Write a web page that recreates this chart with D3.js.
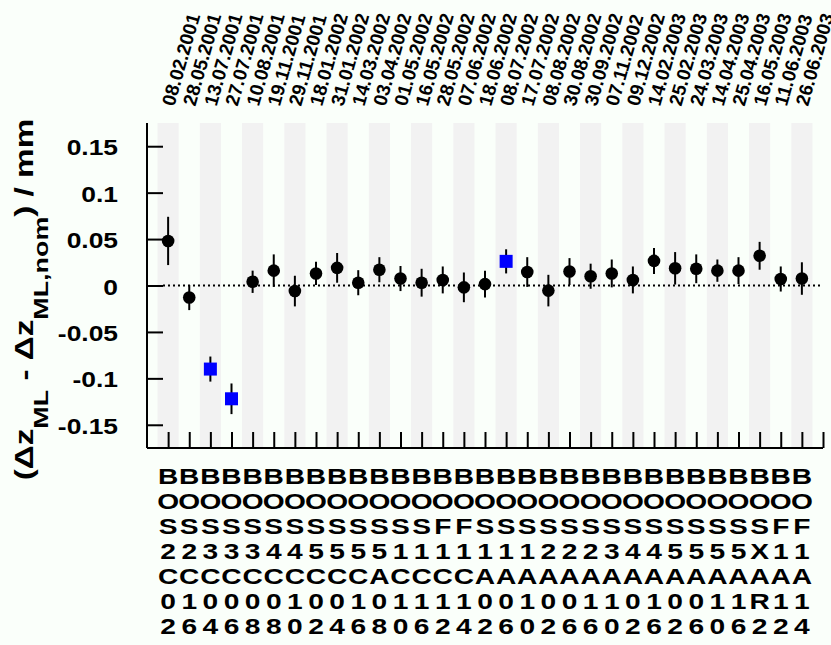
<!DOCTYPE html>
<html>
<head>
<meta charset="utf-8">
<script src="https://cdnjs.cloudflare.com/ajax/libs/d3/7.8.5/d3.min.js"></script>
<style>
  body { margin: 0; background: #fafffa; }
  text { font-family: "Liberation Sans", Arial, sans-serif; font-weight: bold; fill: #000; }
</style>
</head>
<body>
<div id="chart"></div>
<script>
// measurement dates (top labels)
var dates = ["08.02.2001", "28.05.2001", "13.07.2001", "27.07.2001", "10.08.2001",
  "19.11.2001", "29.11.2001", "18.01.2002", "31.01.2002", "14.03.2002", "03.04.2002",
  "01.05.2002", "16.05.2002", "28.05.2002", "07.06.2002", "18.06.2002", "08.07.2002",
  "17.07.2002", "08.08.2002", "30.08.2002", "30.09.2002", "07.11.2002", "09.12.2002",
  "14.02.2003", "25.02.2003", "24.03.2003", "14.04.2003", "25.04.2003", "16.05.2003",
  "11.06.2003", "26.06.2003"];

// chamber names (bottom labels, written vertically)
var chambers = ["BOS2C02", "BOS2C16", "BOS3C04", "BOS3C06", "BOS3C08", "BOS4C08",
  "BOS4C10", "BOS5C02", "BOS5C04", "BOS5C16", "BOS5A08", "BOS1C10", "BOS1C16",
  "BOF1C12", "BOF1C14", "BOS1A02", "BOS1A06", "BOS1A10", "BOS2A02", "BOS2A06",
  "BOS2A16", "BOS3A10", "BOS4A02", "BOS4A16", "BOS5A02", "BOS5A06", "BOS5A10",
  "BOS5A16", "BOSXAR2", "BOF1A12", "BOF1A14"];

// (dz_ML - dz_ML,nom) in mm and its error
var values = [0.048, -0.013, -0.090, -0.122, 0.004, 0.016, -0.006, 0.013, 0.019, 0.003,
  0.017, 0.0075, 0.003, 0.006, -0.002, 0.0015, 0.026, 0.0145, -0.0055, 0.015, 0.010,
  0.013, 0.006, 0.0265, 0.0185, 0.018, 0.016, 0.016, 0.032, 0.007, 0.0075];
var errors = [0.026, 0.0135, 0.0135, 0.0165, 0.012, 0.0175, 0.0165, 0.0125, 0.016, 0.0135,
  0.0135, 0.0135, 0.015, 0.0145, 0.016, 0.0145, 0.013, 0.016, 0.017, 0.0145, 0.0135,
  0.015, 0.0145, 0.014, 0.0175, 0.0155, 0.012, 0.0145, 0.015, 0.0135, 0.0175];

// chambers drawn as blue squares
var squareChambers = ["BOS3C04", "BOS3C06", "BOS1A06"];

var yTicks = [-0.15, -0.1, -0.05, 0, 0.05, 0.1, 0.15];
var yTickLabels = ["-0.15", "-0.1", "-0.05", "0", "0.05", "0.1", "0.15"];

(function(){

  var W = 831, H = 645;
  var pLeft = 147, pRight = 823, pTop = 123, pBottom = 448;

  var svg = d3.select("#chart").append("svg")
    .attr("width", W).attr("height", H);

  svg.append("rect").attr("width", W).attr("height", H).attr("fill", "#fafffa");

  var n = chambers.length;
  var x = d3.scaleLinear().domain([0, n + 1]).range([pLeft, pRight]);
  var y = d3.scaleLinear().domain([-0.175, 0.175]).range([pBottom, pTop]);

  var data = chambers.map(function(c, i) {
    return { name: c, date: dates[i], v: values[i], e: errors[i], pos: i + 1,
             square: squareChambers.indexOf(c) >= 0 };
  });

  // alternating grey bands
  svg.append("g").selectAll("rect")
    .data(data.filter(function(d, i) { return i % 2 == 0; }))
    .enter().append("rect")
    .attr("x", function(d) { return x(d.pos - 0.5); })
    .attr("width", function(d) { return x(d.pos + 0.5) - x(d.pos - 0.5); })
    .attr("y", pTop)
    .attr("height", pBottom - pTop)
    .attr("fill", "#f2f2f2");

  // dotted zero line
  svg.append("line")
    .attr("x1", x(0) + 16).attr("x2", x(n + 1))
    .attr("y1", y(0)).attr("y2", y(0))
    .attr("stroke", "#000").attr("stroke-width", 2)
    .attr("stroke-dasharray", "2,3");

  // axes: ticks point inwards
  var yAxis = d3.axisRight(y).tickValues(yTicks).tickSize(16).tickFormat("");
  svg.append("g").attr("transform", "translate(" + pLeft + ",0)").call(yAxis)
    .call(function(g) {
      g.select(".domain").attr("d", "M0," + pTop + "V" + pBottom).attr("stroke-width", 2);
      g.selectAll(".tick line").attr("stroke-width", 2);
    });

  var xAxis = d3.axisTop(x).tickValues(d3.range(1, n + 2)).tickSize(16).tickFormat("");
  svg.append("g").attr("transform", "translate(0," + pBottom + ")").call(xAxis)
    .call(function(g) {
      g.select(".domain").attr("d", "M" + pLeft + ",0H" + pRight).attr("stroke-width", 2);
      g.selectAll(".tick line").attr("stroke-width", 2);
    });

  // y tick labels
  svg.append("g").selectAll("text")
    .data(yTicks)
    .enter().append("text")
    .attr("transform", function(d) { return "translate(118," + (y(d) + 9) + ") scale(1.2,1)"; })
    .attr("text-anchor", "end")
    .attr("font-size", 22)
    .text(function(d, i) { return yTickLabels[i]; });

  // error bars
  svg.append("g").selectAll("line")
    .data(data)
    .enter().append("line")
    .attr("x1", function(d) { return x(d.pos); })
    .attr("x2", function(d) { return x(d.pos); })
    .attr("y1", function(d) { return y(d.v - d.e); })
    .attr("y2", function(d) { return y(d.v + d.e); })
    .attr("stroke", "#000").attr("stroke-width", 2);

  // markers
  svg.append("g").selectAll("circle")
    .data(data.filter(function(d) { return !d.square; }))
    .enter().append("circle")
    .attr("cx", function(d) { return x(d.pos); })
    .attr("cy", function(d) { return y(d.v); })
    .attr("r", 6.3)
    .attr("fill", "#000");

  svg.append("g").selectAll("rect")
    .data(data.filter(function(d) { return d.square; }))
    .enter().append("rect")
    .attr("x", function(d) { return x(d.pos) - 6.5; })
    .attr("y", function(d) { return y(d.v) - 6.5; })
    .attr("width", 13).attr("height", 13)
    .attr("fill", "#0000ff");

  // dates on top
  svg.append("g").selectAll("text")
    .data(data)
    .enter().append("text")
    .attr("transform", function(d) { return "translate(" + (x(d.pos) + 6) + ",107) rotate(-74)"; })
    .attr("font-size", 19)
    .text(function(d) { return d.date; });

  // chamber names, one character per row
  var nameG = svg.append("g").selectAll("g")
    .data(data)
    .enter().append("g");
  nameG.selectAll("text")
    .data(function(d) { return d.name.split("").map(function(c, j) { return { c: c, j: j, xp: x(d.pos) }; }); })
    .enter().append("text")
    .attr("transform", function(d) { return "translate(" + d.xp + "," + (484 + d.j * 25) + ") scale(1.28,1)"; })
    .attr("text-anchor", "middle")
    .attr("font-size", 22)
    .text(function(d) { return d.c; });

  // y axis title
  var title = svg.append("text")
    .attr("transform", "translate(33," + ((pTop + pBottom) / 2 + 14) + ") rotate(-90) scale(1.28,1)")
    .attr("text-anchor", "middle")
    .attr("font-size", 26);
  title.append("tspan").text("(\u0394z");
  title.append("tspan").attr("dy", 15).attr("font-size", 21).text("ML");
  title.append("tspan").attr("dy", -15).text(" - \u0394z");
  title.append("tspan").attr("dy", 15).attr("font-size", 21).text("ML,nom");
  title.append("tspan").attr("dy", -15).text(") / mm");

})();
</script>
</body>
</html>
